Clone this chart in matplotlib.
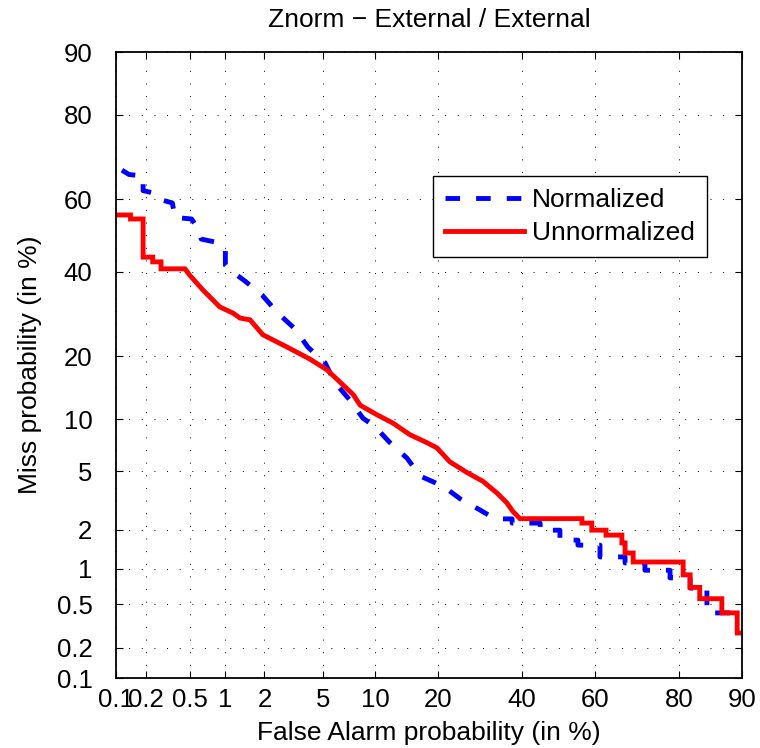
import numpy as np
import matplotlib
matplotlib.use('Agg')
import matplotlib.pyplot as plt
from matplotlib.ticker import NullLocator
from statistics import NormalDist

plt.rcParams['font.family'] = ['Liberation Sans', 'DejaVu Sans']

# DET curves, values in percent (false alarm, miss)
norm_fa = [0.115, 0.135, 0.186, 0.186, 0.25, 0.28, 0.35, 0.37, 0.52, 0.6, 0.63, 0.82, 0.96,
           1.0, 1.0, 1.09, 1.43, 1.92, 2.5, 3.29, 4.0, 5.15, 5.93, 7.27, 8.6, 10.0, 11.96,
           14.5, 16.7, 21.0, 24.6, 29.2, 32.9, 37.3, 37.3, 44.9, 44.9, 50.4, 50.4, 55.4,
           55.4, 61.4, 61.4, 67.9, 67.9, 72.7, 72.7, 78.2, 78.2, 82.1, 82.1, 85.0, 85.0, 90.0]
norm_miss = [67.6, 66.5, 66.1, 62.3, 61.5, 59.8, 59.0, 55.0, 54.6, 51.5, 49.0, 48.2, 46.8,
             46.5, 41.8, 40.5, 37.5, 33.9, 29.4, 25.7, 21.8, 18.7, 15.2, 12.5, 10.1, 9.1, 7.4,
             6.0, 4.65, 4.0, 3.3, 2.76, 2.39, 2.39, 2.23, 2.23, 1.98, 1.98, 1.67, 1.67,
             1.53, 1.53, 1.24, 1.24, 1.11, 1.11, 0.97, 0.97, 0.84, 0.84, 0.69, 0.69, 0.42, 0.42]

unnorm_fa = [0.1, 0.14, 0.14, 0.186, 0.186, 0.23, 0.23, 0.275, 0.275, 0.455, 0.5, 0.65, 0.9,
             1.15, 1.31, 1.56, 1.95, 2.9, 4.13, 5.3, 6.35, 7.6, 8.3, 10.3, 12.4, 15.0, 17.9,
             19.8, 22.4, 26.1, 29.9, 33.4, 35.9, 37.5, 39.4, 56.5, 56.5, 59.2, 59.2, 63.0,
             63.0, 67.1, 67.1, 67.9, 67.9, 69.9, 69.9, 80.8, 80.8, 82.1, 82.1, 83.8, 83.8,
             87.3, 87.3, 89.4, 89.4, 90.0]
unnorm_miss = [55.7, 55.7, 54.6, 54.6, 44.0, 44.0, 42.7, 42.7, 40.8, 40.8, 39.1, 35.2, 30.9,
               29.4, 28.2, 27.8, 24.4, 21.8, 19.4, 17.4, 15.3, 13.3, 11.8, 10.5, 9.5, 8.2, 7.4,
               6.9, 5.7, 4.9, 4.3, 3.6, 3.1, 2.7, 2.4, 2.4, 2.23, 2.23, 1.98, 1.98,
               1.82, 1.82, 1.59, 1.59, 1.33, 1.33, 1.13, 1.13, 0.89, 0.89, 0.70, 0.70, 0.56,
               0.56, 0.42, 0.42, 0.275, 0.275]

ticks = [0.1, 0.2, 0.5, 1, 2, 5, 10, 20, 40, 60, 80, 90]
tick_labels = ['0.1', '0.2', '0.5', '1', '2', '5', '10', '20', '40', '60', '80', '90']

_nd = NormalDist()
_ppf = np.vectorize(_nd.inv_cdf, otypes=[float])
_cdf = np.vectorize(_nd.cdf, otypes=[float])


def fwd(p):
    p = np.clip(np.asarray(p, dtype=float) / 100.0, 1e-9, 1 - 1e-9)
    return _ppf(p)


def inv(z):
    return _cdf(np.asarray(z, dtype=float)) * 100.0


fig = plt.figure(figsize=(7.6, 7.48), dpi=100)
ax = fig.add_axes([116 / 760, 70 / 748, 626 / 760, 626 / 748])
ax.set_xscale('function', functions=(fwd, inv))
ax.set_yscale('function', functions=(fwd, inv))

ax.plot(norm_fa, norm_miss, color='#0000ff', lw=3.5, dashes=(3.0, 3.3),
        solid_capstyle='butt', dash_capstyle='butt', label='Normalized')
ax.plot(unnorm_fa, unnorm_miss, color='#ff0000', lw=3.5,
        solid_joinstyle='miter', label='Unnormalized')

ax.set_xlim(0.1, 90)
ax.set_ylim(0.1, 90)
ax.set_xticks(ticks)
ax.set_xticklabels(tick_labels)
ax.set_yticks(ticks)
ax.set_yticklabels(tick_labels)
ax.xaxis.set_minor_locator(NullLocator())
ax.yaxis.set_minor_locator(NullLocator())

ax.tick_params(axis='both', direction='in', length=5, width=0.8, labelsize=18.5,
               top=True, right=True)
ax.tick_params(axis='x', pad=7)
ax.tick_params(axis='y', pad=17)
for s in ax.spines.values():
    s.set_linewidth(1.3)

ax.grid(True, color='black', linewidth=0.7, linestyle=(0, (1, 12)))
ax.set_axisbelow(True)

ax.set_xlabel('False Alarm probability (in %)', fontsize=19, va='center')
ax.xaxis.set_label_coords(0.5, -55 / 626)
ax.set_ylabel('Miss probability (in %)', fontsize=19, va='center')
ax.yaxis.set_label_coords(-86 / 626, 0.5)
fig.text(429 / 760, 1 - 20 / 748, 'Znorm \u2212 External / External', fontsize=19,
         ha='center', va='center')

leg = ax.legend(loc='upper right', bbox_to_anchor=(0.944, 0.802), borderaxespad=0,
                fontsize=19, handlelength=3.0, handletextpad=0.3, labelspacing=0.35,
                borderpad=0.45, fancybox=False, framealpha=1, edgecolor='black')
leg.get_frame().set_linewidth(1.0)

fig.savefig('out.png', dpi=100)
